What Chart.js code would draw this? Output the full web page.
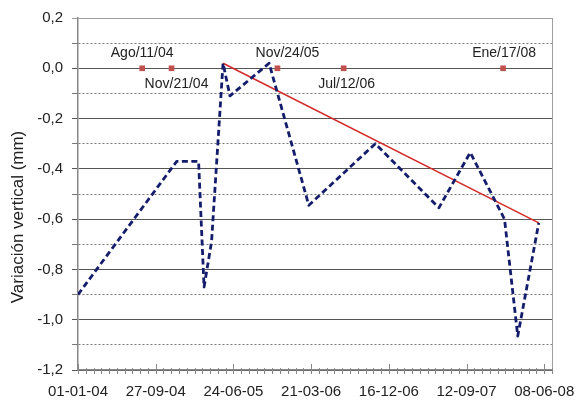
<!DOCTYPE html>
<html lang="es">
<head>
<meta charset="UTF-8" />
<title>Variación vertical</title>
<script src="https://cdn.jsdelivr.net/npm/chart.js"></script>
<style>
  html, body { margin: 0; padding: 0; background: #fff; }
  .chart-box { width: 576px; height: 404px; }
</style>
</head>
<body>
<div class="chart-box"><canvas id="chart"></canvas></div>
<script>
// measured series (blue dashed)
const seriesDates = ['2004-01-01', '2004-12-09', '2005-02-23', '2005-03-14', '2005-04-09',
  '2005-05-19', '2005-06-12', '2005-10-26', '2006-03-13', '2006-10-30',
  '2007-06-08', '2007-09-25', '2008-01-22', '2008-03-08', '2008-05-20'];
const seriesValues = [-0.90, -0.37, -0.37, -0.87, -0.69,
  0.02, -0.11, 0.02, -0.545, -0.30,
  -0.555, -0.335, -0.60, -1.065, -0.615];

// trend line (red)
const trendDates = ['2005-05-19', '2008-05-20'];
const trendValues = [0.02, -0.615];

// event markers on the zero line
const eventDates = ['2004-08-11', '2004-11-21', '2005-11-24', '2006-07-12', '2008-01-17'];
const eventLabels = ['Ago/11/04', 'Nov/21/04', 'Nov/24/05', 'Jul/12/06', 'Ene/17/08'];
const eventSide = ['above', 'below', 'above', 'below', 'above'];
const eventValue = 0;

// x axis: days since 01-01-04
const startDate = '2004-01-01';
const xTickDays = [0, 270, 540, 810, 1080, 1350, 1620];
const xMaxDays = 1647;
const xMinorStep = 27;

// y axis
const yMin = -1.2, yMax = 0.2, yStep = 0.1;

const DAY = 86400000;
function toDays(s) {
  const a = s.split('-').map(Number), b = startDate.split('-').map(Number);
  return Math.round((Date.UTC(a[0], a[1] - 1, a[2]) - Date.UTC(b[0], b[1] - 1, b[2])) / DAY);
}
function fmtDay(v) {
  const b = startDate.split('-').map(Number);
  const d = new Date(Date.UTC(b[0], b[1] - 1, b[2]) + v * DAY);
  const p = n => String(n).padStart(2, '0');
  return p(d.getUTCDate()) + '-' + p(d.getUTCMonth() + 1) + '-' + p(d.getUTCFullYear() % 100);
}
const tenths = v => Math.round(v * 10);

const FONT = "'Liberation Sans', Arial, sans-serif";

const extras = {
  id: 'extras',
  afterDatasetsDraw(chart) {
    const {ctx, chartArea: a, scales: {x, y}} = chart;
    ctx.save();
    // right border
    ctx.strokeStyle = '#a0a0a0';
    ctx.lineWidth = 1;
    ctx.beginPath();
    ctx.moveTo(a.right + 0.5, a.top);
    ctx.lineTo(a.right + 0.5, a.bottom);
    ctx.stroke();
    // x tick marks (major and minor)
    ctx.strokeStyle = '#888';
    ctx.beginPath();
    for (let d = 0; d <= xMaxDays; d += xMinorStep) {
      const px = Math.round(x.getPixelForValue(d)) + 0.5;
      const major = xTickDays.includes(d);
      ctx.moveTo(px, a.bottom - (major ? 6 : 2));
      ctx.lineTo(px, a.bottom + 4);
    }
    ctx.stroke();
    // event labels
    ctx.fillStyle = '#222';
    ctx.font = '14px ' + FONT;
    ctx.textAlign = 'center';
    ctx.textBaseline = 'middle';
    const dx = [0, 5, 10, 3, 1];
    eventDates.forEach((d, i) => {
      const px = x.getPixelForValue(toDays(d));
      const py = y.getPixelForValue(eventValue);
      ctx.fillText(eventLabels[i], px + dx[i], py + (eventSide[i] === 'above' ? -15 : 16));
    });
    // y title
    ctx.font = '17px ' + FONT;
    ctx.translate(18, 217);
    ctx.rotate(-Math.PI / 2);
    ctx.fillText('Variación vertical (mm)', 0, 0);
    ctx.restore();
  }
};

new Chart(document.getElementById('chart'), {
  type: 'scatter',
  data: {
    datasets: [
      {
        label: 'Eventos',
        data: eventDates.map(d => ({x: toDays(d), y: eventValue})),
        pointStyle: 'rect',
        pointRadius: 4,
        backgroundColor: '#c0504d',
        borderColor: '#c0504d',
        borderWidth: 0,
        showLine: false
      },
      {
        label: 'Variación',
        data: seriesDates.map((d, i) => ({x: toDays(d), y: seriesValues[i]})),
        showLine: true,
        borderColor: '#141c6c',
        borderWidth: 2.8,
        borderDash: [6, 3.5],
        borderJoinStyle: 'round',
        pointRadius: 0,
        tension: 0
      },
      {
        label: 'Tendencia',
        data: trendDates.map((d, i) => ({x: toDays(d), y: trendValues[i]})),
        showLine: true,
        borderColor: '#d42a2a',
        borderWidth: 1.5,
        pointRadius: 0
      }
    ]
  },
  options: {
    responsive: true,
    maintainAspectRatio: false,
    animation: false,
    layout: { padding: { left: 0, right: 24, top: 13.5, bottom: 0 } },
    plugins: { legend: { display: false }, tooltip: { enabled: false } },
    scales: {
      x: {
        type: 'linear',
        min: 0,
        max: xMaxDays,
        afterBuildTicks: s => { s.ticks = xTickDays.map(v => ({value: v})); },
        afterFit: s => { s.height = 34; s.paddingLeft = 0; s.paddingRight = 0; },
        grid: { display: false, drawTicks: false },
        border: { display: true, color: '#888', width: 1.5 },
        ticks: {
          padding: 13,
          maxRotation: 0,
          autoSkip: false,
          color: '#222',
          font: { family: FONT, size: 15 },
          callback: v => fmtDay(v)
        }
      },
      y: {
        min: yMin,
        max: yMax,
        afterFit: s => { s.width = 78; },
        ticks: {
          stepSize: yStep,
          padding: 9,
          autoSkip: false,
          color: '#222',
          font: { family: FONT, size: 15 },
          callback: v => {
            const t = tenths(v);
            if (t % 2 !== 0) return '';
            return (t / 10).toFixed(1).replace('.', ',');
          }
        },
        grid: {
          tickLength: 6,
          lineWidth: 1,
          color: c => {
            const t = tenths(c.tick.value);
            if (t === 2) return '#a0a0a0';
            return t % 2 === 0 ? '#555' : '#777';
          }
        },
        border: {
          display: true,
          color: '#888',
          width: 1.5,
          dash: c => (c.tick && tenths(c.tick.value) % 2 !== 0 ? [2, 2] : [])
        }
      }
    }
  },
  plugins: [extras]
});
</script>
</body>
</html>
